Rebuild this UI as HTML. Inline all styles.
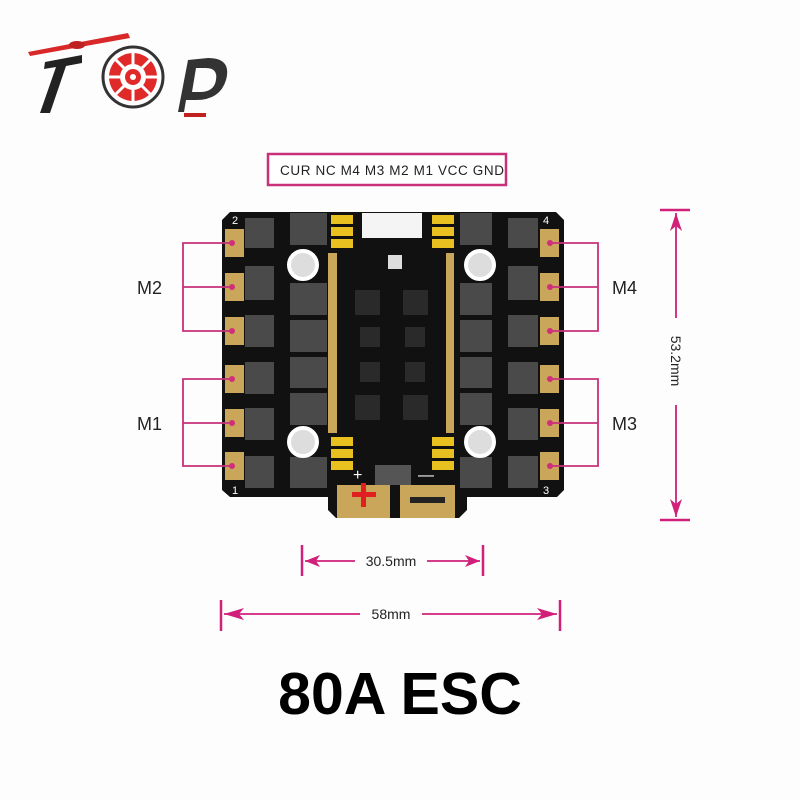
<!DOCTYPE html>
<html><head><style>
html,body{margin:0;padding:0;background:#fff;}
svg{display:block;}
text{font-family:"Liberation Sans",sans-serif;}
</style></head><body>
<svg width="800" height="800" viewBox="0 0 800 800" xmlns="http://www.w3.org/2000/svg">
<rect width="800" height="800" fill="#fdfdfd"/>
<g>
<polygon points="28,52 128,33 130,38 30,56" fill="#d8282a"/>
<ellipse cx="77" cy="45" rx="8" ry="4" fill="#c02020"/>
<polygon points="45,62 82,55 82,63 66,66 50,113 40,113 56,67 44,69" fill="#222"/>
<circle cx="133" cy="77" r="30" fill="#fff" stroke="#333" stroke-width="3"/>
<circle cx="133" cy="77" r="24" fill="#e02a2a"/>
<circle cx="133" cy="77" r="13" fill="#fff"/>
<circle cx="133" cy="77" r="8" fill="#e02a2a"/>
<circle cx="133" cy="77" r="3" fill="#fff"/>
<g stroke="#fff" stroke-width="3"><line x1="133" y1="53" x2="133" y2="64"/><line x1="133" y1="90" x2="133" y2="101"/><line x1="109" y1="77" x2="120" y2="77"/><line x1="146" y1="77" x2="157" y2="77"/><line x1="116" y1="60" x2="124" y2="68"/><line x1="142" y1="86" x2="150" y2="94"/><line x1="150" y1="60" x2="142" y2="68"/><line x1="124" y1="86" x2="116" y2="94"/></g>
<path d="M178 112 L188 60 L208 58 Q232 58 226 80 Q220 100 196 100 L186 100 L184 112 Z M192 92 L200 92 Q214 92 216 80 Q218 68 206 68 L196 68 Z" fill="#333"/>
<rect x="184" y="113" width="22" height="4" fill="#c02020"/>
</g>
<rect x="268" y="154" width="238" height="31" fill="#fff" stroke="#c8307a" stroke-width="2.5"/>
<text x="280" y="175" font-size="13.5" fill="#222" textLength="224" lengthAdjust="spacing">CUR  NC  M4  M3  M2  M1  VCC  GND</text>
<path d="M230 212 L556 212 L564 220 L564 490 L557 497 L467 497 L467 510 L459 518 L336 518 L328 510 L328 497 L230 497 L222 490 L222 220 Z" fill="#111"/>
<g fill="#c9a65a">
<rect x="225" y="229" width="19" height="28"/><rect x="225" y="273" width="19" height="28"/><rect x="225" y="317" width="19" height="28"/>
<rect x="225" y="365" width="19" height="28"/><rect x="225" y="409" width="19" height="28"/><rect x="225" y="452" width="19" height="28"/>
<rect x="540" y="229" width="19" height="28"/><rect x="540" y="273" width="19" height="28"/><rect x="540" y="317" width="19" height="28"/>
<rect x="540" y="365" width="19" height="28"/><rect x="540" y="409" width="19" height="28"/><rect x="540" y="452" width="19" height="28"/>
<rect x="337" y="485" width="53" height="33"/><rect x="400" y="485" width="55" height="33"/>
<rect x="328" y="253" width="9" height="180"/><rect x="446" y="253" width="8" height="180"/>
</g>
<g fill="#4a4a4a">
<rect x="245" y="218" width="29" height="30"/><rect x="245" y="266" width="29" height="34"/><rect x="245" y="315" width="29" height="32"/>
<rect x="245" y="362" width="29" height="32"/><rect x="245" y="408" width="29" height="32"/><rect x="245" y="456" width="29" height="32"/>
<rect x="290" y="213" width="37" height="32"/><rect x="290" y="283" width="37" height="32"/><rect x="290" y="320" width="37" height="32"/>
<rect x="290" y="357" width="37" height="31"/><rect x="290" y="393" width="37" height="32"/><rect x="290" y="457" width="37" height="31"/>
<rect x="460" y="213" width="32" height="32"/><rect x="460" y="283" width="32" height="32"/><rect x="460" y="320" width="32" height="32"/>
<rect x="460" y="357" width="32" height="31"/><rect x="460" y="393" width="32" height="32"/><rect x="460" y="457" width="32" height="31"/>
<rect x="508" y="218" width="30" height="30"/><rect x="508" y="266" width="30" height="34"/><rect x="508" y="315" width="30" height="32"/>
<rect x="508" y="362" width="30" height="32"/><rect x="508" y="408" width="30" height="32"/><rect x="508" y="456" width="30" height="32"/>
</g>
<g fill="#2a2a2a"><rect x="355" y="290" width="25" height="25"/><rect x="403" y="290" width="25" height="25"/><rect x="360" y="327" width="20" height="20"/><rect x="405" y="327" width="20" height="20"/><rect x="360" y="362" width="20" height="20"/><rect x="405" y="362" width="20" height="20"/><rect x="355" y="395" width="25" height="25"/><rect x="403" y="395" width="25" height="25"/></g>
<g fill="#e8c020">
<rect x="331" y="215" width="22" height="9"/><rect x="331" y="227" width="22" height="9"/><rect x="331" y="239" width="22" height="9"/>
<rect x="432" y="215" width="22" height="9"/><rect x="432" y="227" width="22" height="9"/><rect x="432" y="239" width="22" height="9"/>
<rect x="331" y="437" width="22" height="9"/><rect x="331" y="449" width="22" height="9"/><rect x="331" y="461" width="22" height="9"/>
<rect x="432" y="437" width="22" height="9"/><rect x="432" y="449" width="22" height="9"/><rect x="432" y="461" width="22" height="9"/>
</g>
<rect x="362" y="213" width="60" height="25" fill="#f4f4f4"/>
<rect x="388" y="255" width="14" height="14" fill="#ddd"/>
<rect x="375" y="465" width="36" height="20" fill="#555"/>
<g fill="#ddd" stroke="#fff" stroke-width="4"><circle cx="303" cy="265" r="14"/><circle cx="480" cy="265" r="14"/><circle cx="303" cy="442" r="14"/><circle cx="480" cy="442" r="14"/></g>
<rect x="352" y="492" width="24" height="5" fill="#e02020"/><rect x="361" y="483" width="5" height="24" fill="#e02020"/>
<rect x="410" y="497" width="35" height="6" fill="#222"/>
<text x="353" y="480" font-size="16" fill="#fff">+</text><text x="418" y="480" font-size="16" fill="#fff">—</text>
<g font-size="11" fill="#fff"><text x="232" y="224">2</text><text x="232" y="494">1</text><text x="543" y="224">4</text><text x="543" y="494">3</text></g>
<g stroke="#c8307a" stroke-width="1.8" fill="none">
<path d="M232 243 H183 V331 H232 M183 287 H232"/>
<path d="M232 379 H183 V466 H232 M183 423 H232"/>
<path d="M550 243 H598 V331 H550 M550 287 H598"/>
<path d="M550 379 H598 V466 H550 M550 423 H598"/>
</g>
<g fill="#d02e7a"><circle cx="232" cy="243" r="3"/><circle cx="232" cy="287" r="3"/><circle cx="232" cy="331" r="3"/><circle cx="232" cy="379" r="3"/><circle cx="232" cy="423" r="3"/><circle cx="232" cy="466" r="3"/><circle cx="550" cy="243" r="3"/><circle cx="550" cy="287" r="3"/><circle cx="550" cy="331" r="3"/><circle cx="550" cy="379" r="3"/><circle cx="550" cy="423" r="3"/><circle cx="550" cy="466" r="3"/></g>
<g font-size="18" fill="#222"><text x="137" y="294">M2</text><text x="137" y="430">M1</text><text x="612" y="294">M4</text><text x="612" y="430">M3</text></g>
<g stroke="#d0207a" stroke-width="2.5" fill="none">
<line x1="302" y1="545" x2="302" y2="576"/><line x1="483" y1="545" x2="483" y2="576"/>
<line x1="221" y1="600" x2="221" y2="631"/><line x1="560" y1="600" x2="560" y2="631"/>
<line x1="660" y1="210" x2="690" y2="210"/><line x1="660" y1="520" x2="690" y2="520"/>
</g>
<g stroke="#d0207a" stroke-width="1.8">
<line x1="305" y1="561" x2="355" y2="561"/><line x1="427" y1="561" x2="480" y2="561"/>
<line x1="224" y1="614" x2="360" y2="614"/><line x1="422" y1="614" x2="557" y2="614"/>
<line x1="676" y1="213" x2="676" y2="318"/><line x1="676" y1="405" x2="676" y2="517"/>
</g>
<g fill="#d0207a">
<polygon points="305,561 320,555 316,561 320,567"/><polygon points="480,561 465,555 469,561 465,567"/>
<polygon points="224,614 244,608 239,614 244,620"/><polygon points="557,614 537,608 542,614 537,620"/>
<polygon points="676,213 670,231 676,226 682,231"/><polygon points="676,517 670,499 676,504 682,499"/>
</g>
<g font-size="14" fill="#222" text-anchor="middle"><text x="391" y="566">30.5mm</text><text x="391" y="619">58mm</text>
<text transform="translate(671,361) rotate(90)">53.2mm</text></g>
<text x="400" y="714" font-size="59" font-weight="bold" text-anchor="middle" fill="#000">80A ESC</text>
</svg>
</body></html>
